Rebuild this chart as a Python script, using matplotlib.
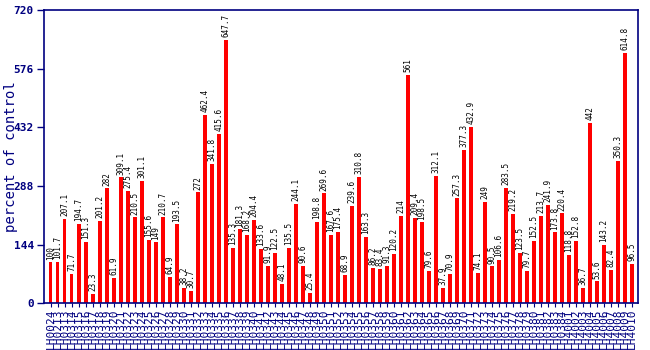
import matplotlib
matplotlib.use("Agg")
import matplotlib.pyplot as plt
import numpy as np

NAVY = "#000080"
MONO = "DejaVu Sans Mono"

samples = [
    "LH0024", "LH0213", "LH0313", "LH0314", "LH0315", "LH0316", "LH0317", "LH0318",
    "LH0319", "LH0320", "LH0321", "LH0322", "LH0323", "LH0324", "LH0325", "LH0326",
    "LH0327", "LH0328", "LH0329", "LH0330", "LH0331", "LH0332", "LH0333", "LH0334",
    "LH0335", "LH0336", "LH0337", "LH0338", "LH0339", "LH0340", "LH0341", "LH0342",
    "LH0343", "LH0344", "LH0345", "LH0346", "LH0347", "LH0348", "LH0349", "LH0350",
    "LH0351", "LH0352", "LH0353", "LH0354", "LH0355", "LH0356", "LH0357", "LH0358",
    "LH0359", "LH0360", "LH0361", "LH0362", "LH0363", "LH0364", "LH0365", "LH0366",
    "LH0367", "LH0368", "LH0369", "LH0370", "LH0371", "LH0372", "LH0373", "LH0374",
    "LH0375", "LH0376", "LH0377", "LH0378", "LH0379", "LH0380", "LH0381", "LH0382",
    "LH0383", "LH0384", "LH4001", "LH4002", "LH4003", "LH4004", "LH4005", "LH4006",
    "LH4007", "LH4008", "LH4009", "LH4010",
]

percent = [
    100, 101.7, 207.1, 71.7, 194.7, 151.3, 23.3, 201.2, 282, 61.9,
    309.1, 275.4, 210.5, 301.1, 155.6, 149, 210.7, 64.9, 193.5, 38.2,
    30.7, 272, 462.4, 341.8, 415.6, 647.7, 135.3, 181.3, 168.2, 204.4,
    133.6, 91.9, 122.5, 48.1, 135.5, 244.1, 90.6, 25.4, 198.8, 269.6,
    167.6, 175.4, 68.9, 239.6, 310.8, 163.3, 86.2, 83.4, 91.3, 120.2,
    214, 561, 209.4, 198.5, 79.6, 312.1, 37.9, 70.9, 257.3, 377.3,
    432.9, 74.1, 249, 90.5, 106.6, 283.5, 219.2, 123.5, 79.7, 152.5,
    213.7, 241.9, 173.8, 220.4, 118.8, 152.8, 36.7, 442, 53.6, 143.2,
    82.4, 350.3, 614.8, 96.5,
]

yticks = [0, 144, 288, 432, 576, 720]

fig = plt.figure(figsize=(6.5, 3.5), dpi=100)
ax = fig.add_axes([0.067, 0.134, 0.915, 0.837])

x = np.arange(len(percent))
ax.bar(x, percent, width=0.55, color="#ff0000", zorder=2)

# value written above each bar
for xi, v in zip(x, percent):
    ax.annotate(f"{v:g}", (xi, v), xytext=(0, 2), textcoords="offset points",
                rotation=90, ha="center", va="bottom", fontsize=5.5,
                family=MONO, color="black")

ax.set_xlim(-1, len(percent) - 0.1)
ax.set_ylim(0, 720)
ax.set_yticks(yticks)
ax.set_yticklabels([str(t) for t in yticks], family=MONO, fontweight="bold",
                   fontsize=8, color=NAVY)
ax.set_xticks(x)
ax.set_xticklabels(samples, rotation=90, family=MONO, fontsize=8, color=NAVY)
ax.tick_params(axis="y", colors=NAVY, length=5, width=1, pad=2)
ax.tick_params(axis="x", colors=NAVY, length=3, width=0.8, pad=1)
ax.set_ylabel("percent of control", family=MONO, fontsize=10, color=NAVY,
              va="center")
ax.yaxis.set_label_coords(-0.054, 0.5)

for s in ax.spines.values():
    s.set_color(NAVY)
    s.set_linewidth(1.2)

fig.savefig("out.png", dpi=100)
